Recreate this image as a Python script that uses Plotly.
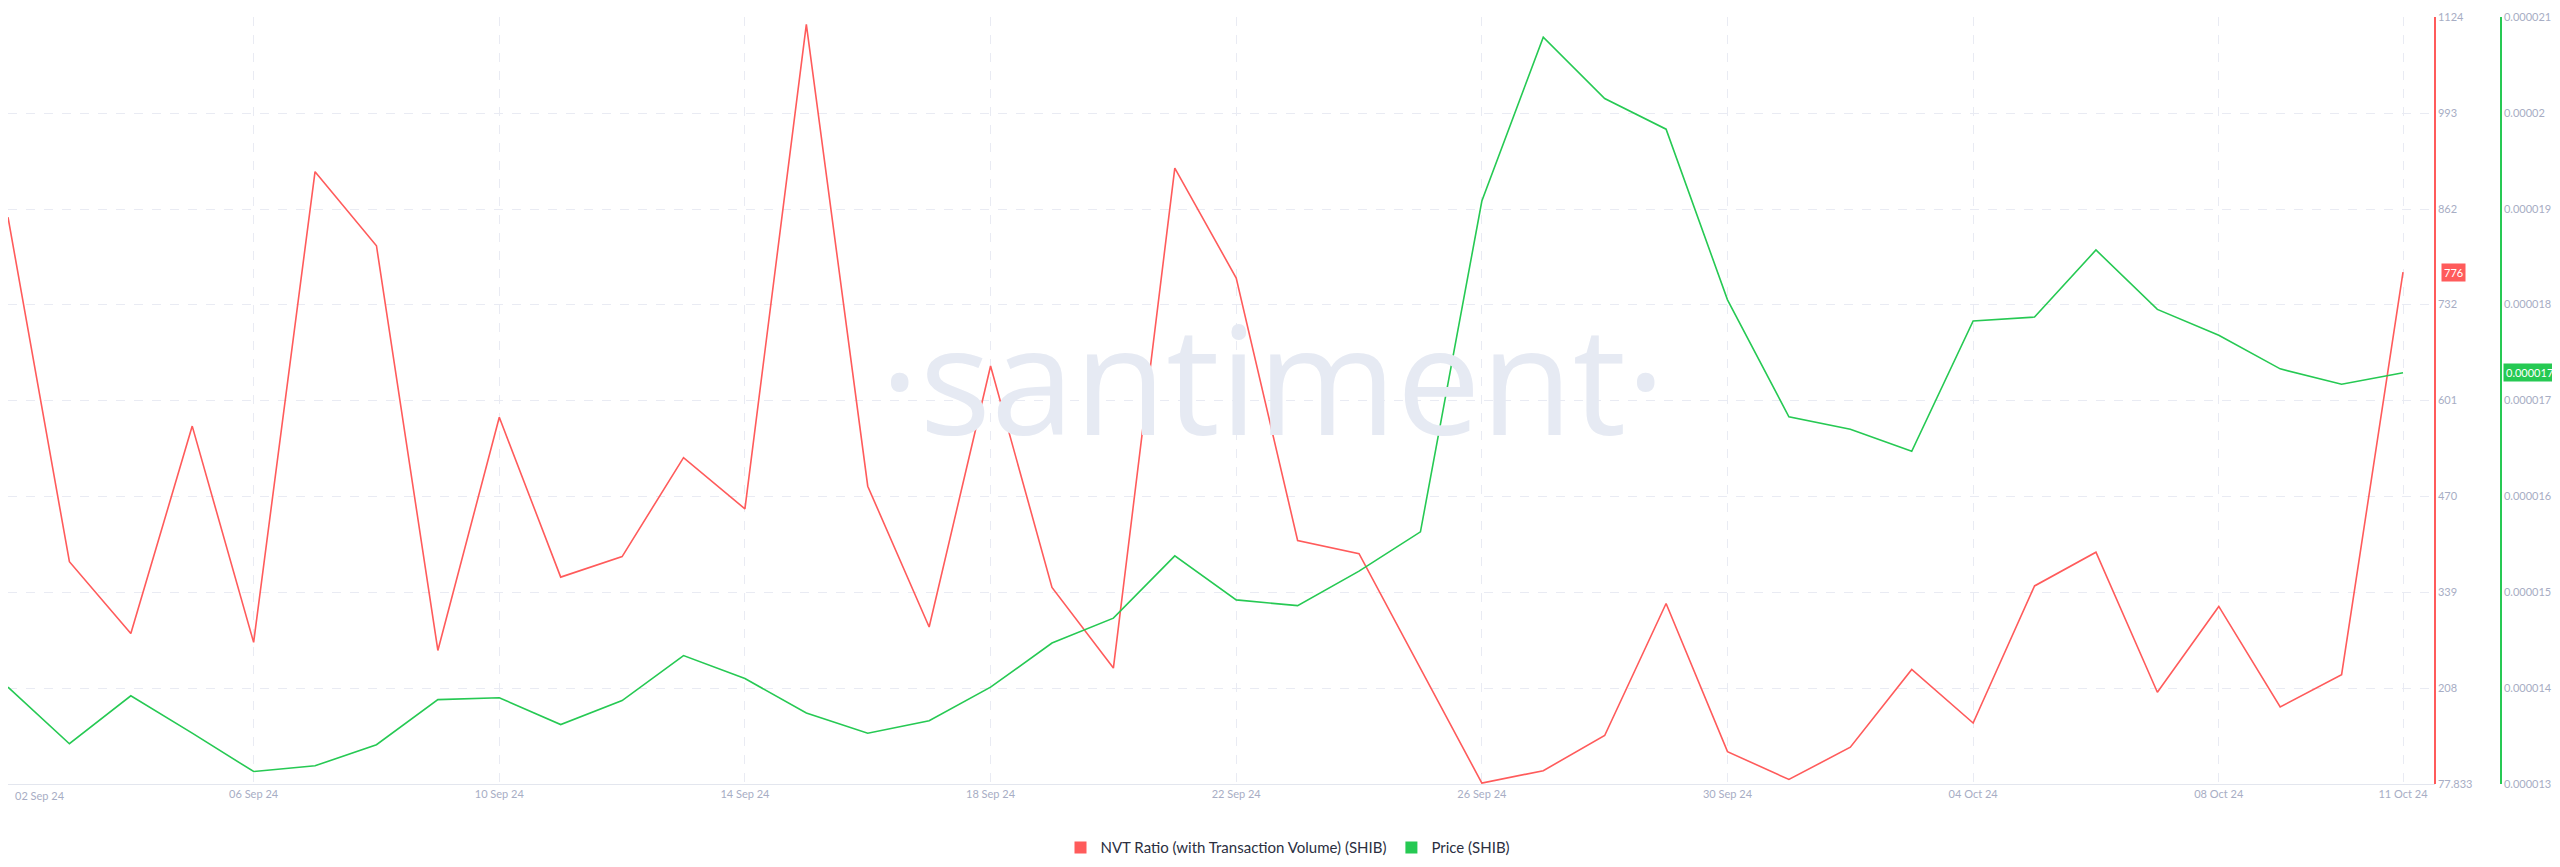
import plotly.graph_objects as go
import pandas as pd

dates = pd.date_range("2024-09-02", "2024-10-11", freq="D")
nvt = [851, 381, 283, 566, 271, 913, 812, 260, 578, 360, 388, 523, 453, 1114,
       484, 292, 648, 346, 236, 918, 768, 410, 392, 236, 79, 96, 144, 324,
       122, 84, 128, 234, 161, 348, 394, 203, 320, 183, 227, 776]
price_e6 = [14.01, 13.42, 13.92, 13.53, 13.13, 13.19, 13.41, 13.88, 13.90, 13.62,
            13.87, 14.34, 14.10, 13.74, 13.53, 13.66, 14.01, 14.47, 14.73, 15.38,
            14.92, 14.86, 15.22, 15.63, 19.08, 20.79, 20.15, 19.83, 18.05, 16.83,
            16.70, 16.47, 17.83, 17.87, 18.57, 17.95, 17.68, 17.33, 17.17, 17.29]
price = [p * 1e-6 for p in price_e6]
red_ticks = [77.833, 208, 339, 470, 601, 732, 862, 993, 1124]
red_ticktext = ["77.833", "208", "339", "470", "601", "732", "862", "993", "1124"]
green_ticks = [13e-6, 14e-6, 15e-6, 16e-6, 17e-6, 18e-6, 19e-6, 20e-6, 21e-6]
green_ticktext = ["0.000013", "0.000014", "0.000015", "0.000016", "0.000017",
                  "0.000018", "0.000019", "0.00002", "0.000021"]
x_tickvals = ["2024-09-06", "2024-09-10", "2024-09-14", "2024-09-18",
              "2024-09-22", "2024-09-26", "2024-09-30", "2024-10-04", "2024-10-08", "2024-10-11"]
x_ticktext = ["06 Sep 24", "10 Sep 24", "14 Sep 24", "18 Sep 24",
              "22 Sep 24", "26 Sep 24", "30 Sep 24", "04 Oct 24", "08 Oct 24", "11 Oct 24"]
first_tick = "02 Sep 24"

RED = "#ff5b5b"
GREEN = "#26c953"
GRID = "#e9ebf3"
TICK = "#a7adc4"
NVT_NAME = "NVT Ratio (with Transaction Volume) (SHIB)"
PRICE_NAME = "Price (SHIB)"

fig = go.Figure()
fig.add_trace(go.Scatter(x=dates, y=nvt, mode="lines", showlegend=False,
                         line=dict(color=RED, width=1.6), yaxis="y"))
fig.add_trace(go.Scatter(x=dates, y=price, mode="lines", showlegend=False,
                         line=dict(color=GREEN, width=1.6), yaxis="y2"))
fig.add_trace(go.Scatter(x=[None], y=[None], mode="markers", name=NVT_NAME,
                         marker=dict(symbol="square", size=11, color=RED)))
fig.add_trace(go.Scatter(x=[None], y=[None], mode="markers", name=PRICE_NAME,
                         marker=dict(symbol="square", size=11, color=GREEN)))

dom = 2427 / 2560
fig.update_layout(
    width=2560, height=867,
    margin=dict(l=0, r=0, t=9, b=91),
    plot_bgcolor="white", paper_bgcolor="white",
    font=dict(family="Lato, Open Sans, sans-serif", color=TICK, size=11),
    showlegend=True,
    legend=dict(orientation="h", x=0.5, xanchor="center", y=-0.083, yanchor="middle",
                font=dict(size=15, color="#2b2f3f"), itemsizing="constant"),
    xaxis=dict(domain=[0, dom], range=["2024-09-02", "2024-10-11 12:30"],
               tickvals=x_tickvals, ticktext=x_ticktext, showgrid=True, gridcolor=GRID,
               griddash="dash", gridwidth=1, showline=True, linecolor="#e3e6ee", linewidth=1,
               ticks="", zeroline=False, tickfont=dict(size=11, color=TICK)),
    yaxis=dict(side="right", anchor="free", position=dom, range=[77.833, 1124],
               tickvals=red_ticks, ticktext=red_ticktext, showgrid=True, gridcolor=GRID,
               griddash="dash", showline=True, linecolor=RED, linewidth=1.5, ticks="",
               zeroline=False, tickfont=dict(size=11, color=TICK)),
    yaxis2=dict(side="right", anchor="free", overlaying="y", position=2493 / 2560,
                range=[13e-6, 21e-6], tickvals=green_ticks, ticktext=green_ticktext,
                showgrid=False, showline=True, linecolor=GREEN, linewidth=1.5, ticks="",
                zeroline=False, tickfont=dict(size=11, color=TICK)),
)

fig.add_annotation(x=dates[0], y=0, xref="x", yref="paper", yanchor="top", xanchor="left",
                   yshift=-3, xshift=5, text=first_tick, showarrow=False,
                   font=dict(size=11, color=TICK))
fig.add_annotation(x=1265 / 2560, y=0.53, xref="paper", yref="paper", text="·santiment·",
                   showarrow=False, font=dict(size=150, color="#e6eaf3", family="Open Sans"))
fig.add_annotation(x=dom, xanchor="left", xshift=6, y=nvt[-1], yref="y", xref="paper",
                   text="776", showarrow=False, bgcolor=RED, font=dict(color="white", size=11),
                   borderpad=2)
fig.add_annotation(x=2493 / 2560, xanchor="left", xshift=2, y=price[-1], yref="y2", xref="paper",
                   text="0.000017", showarrow=False, bgcolor=GREEN, font=dict(color="white", size=11),
                   borderpad=2)

fig.write_html("out.html")
